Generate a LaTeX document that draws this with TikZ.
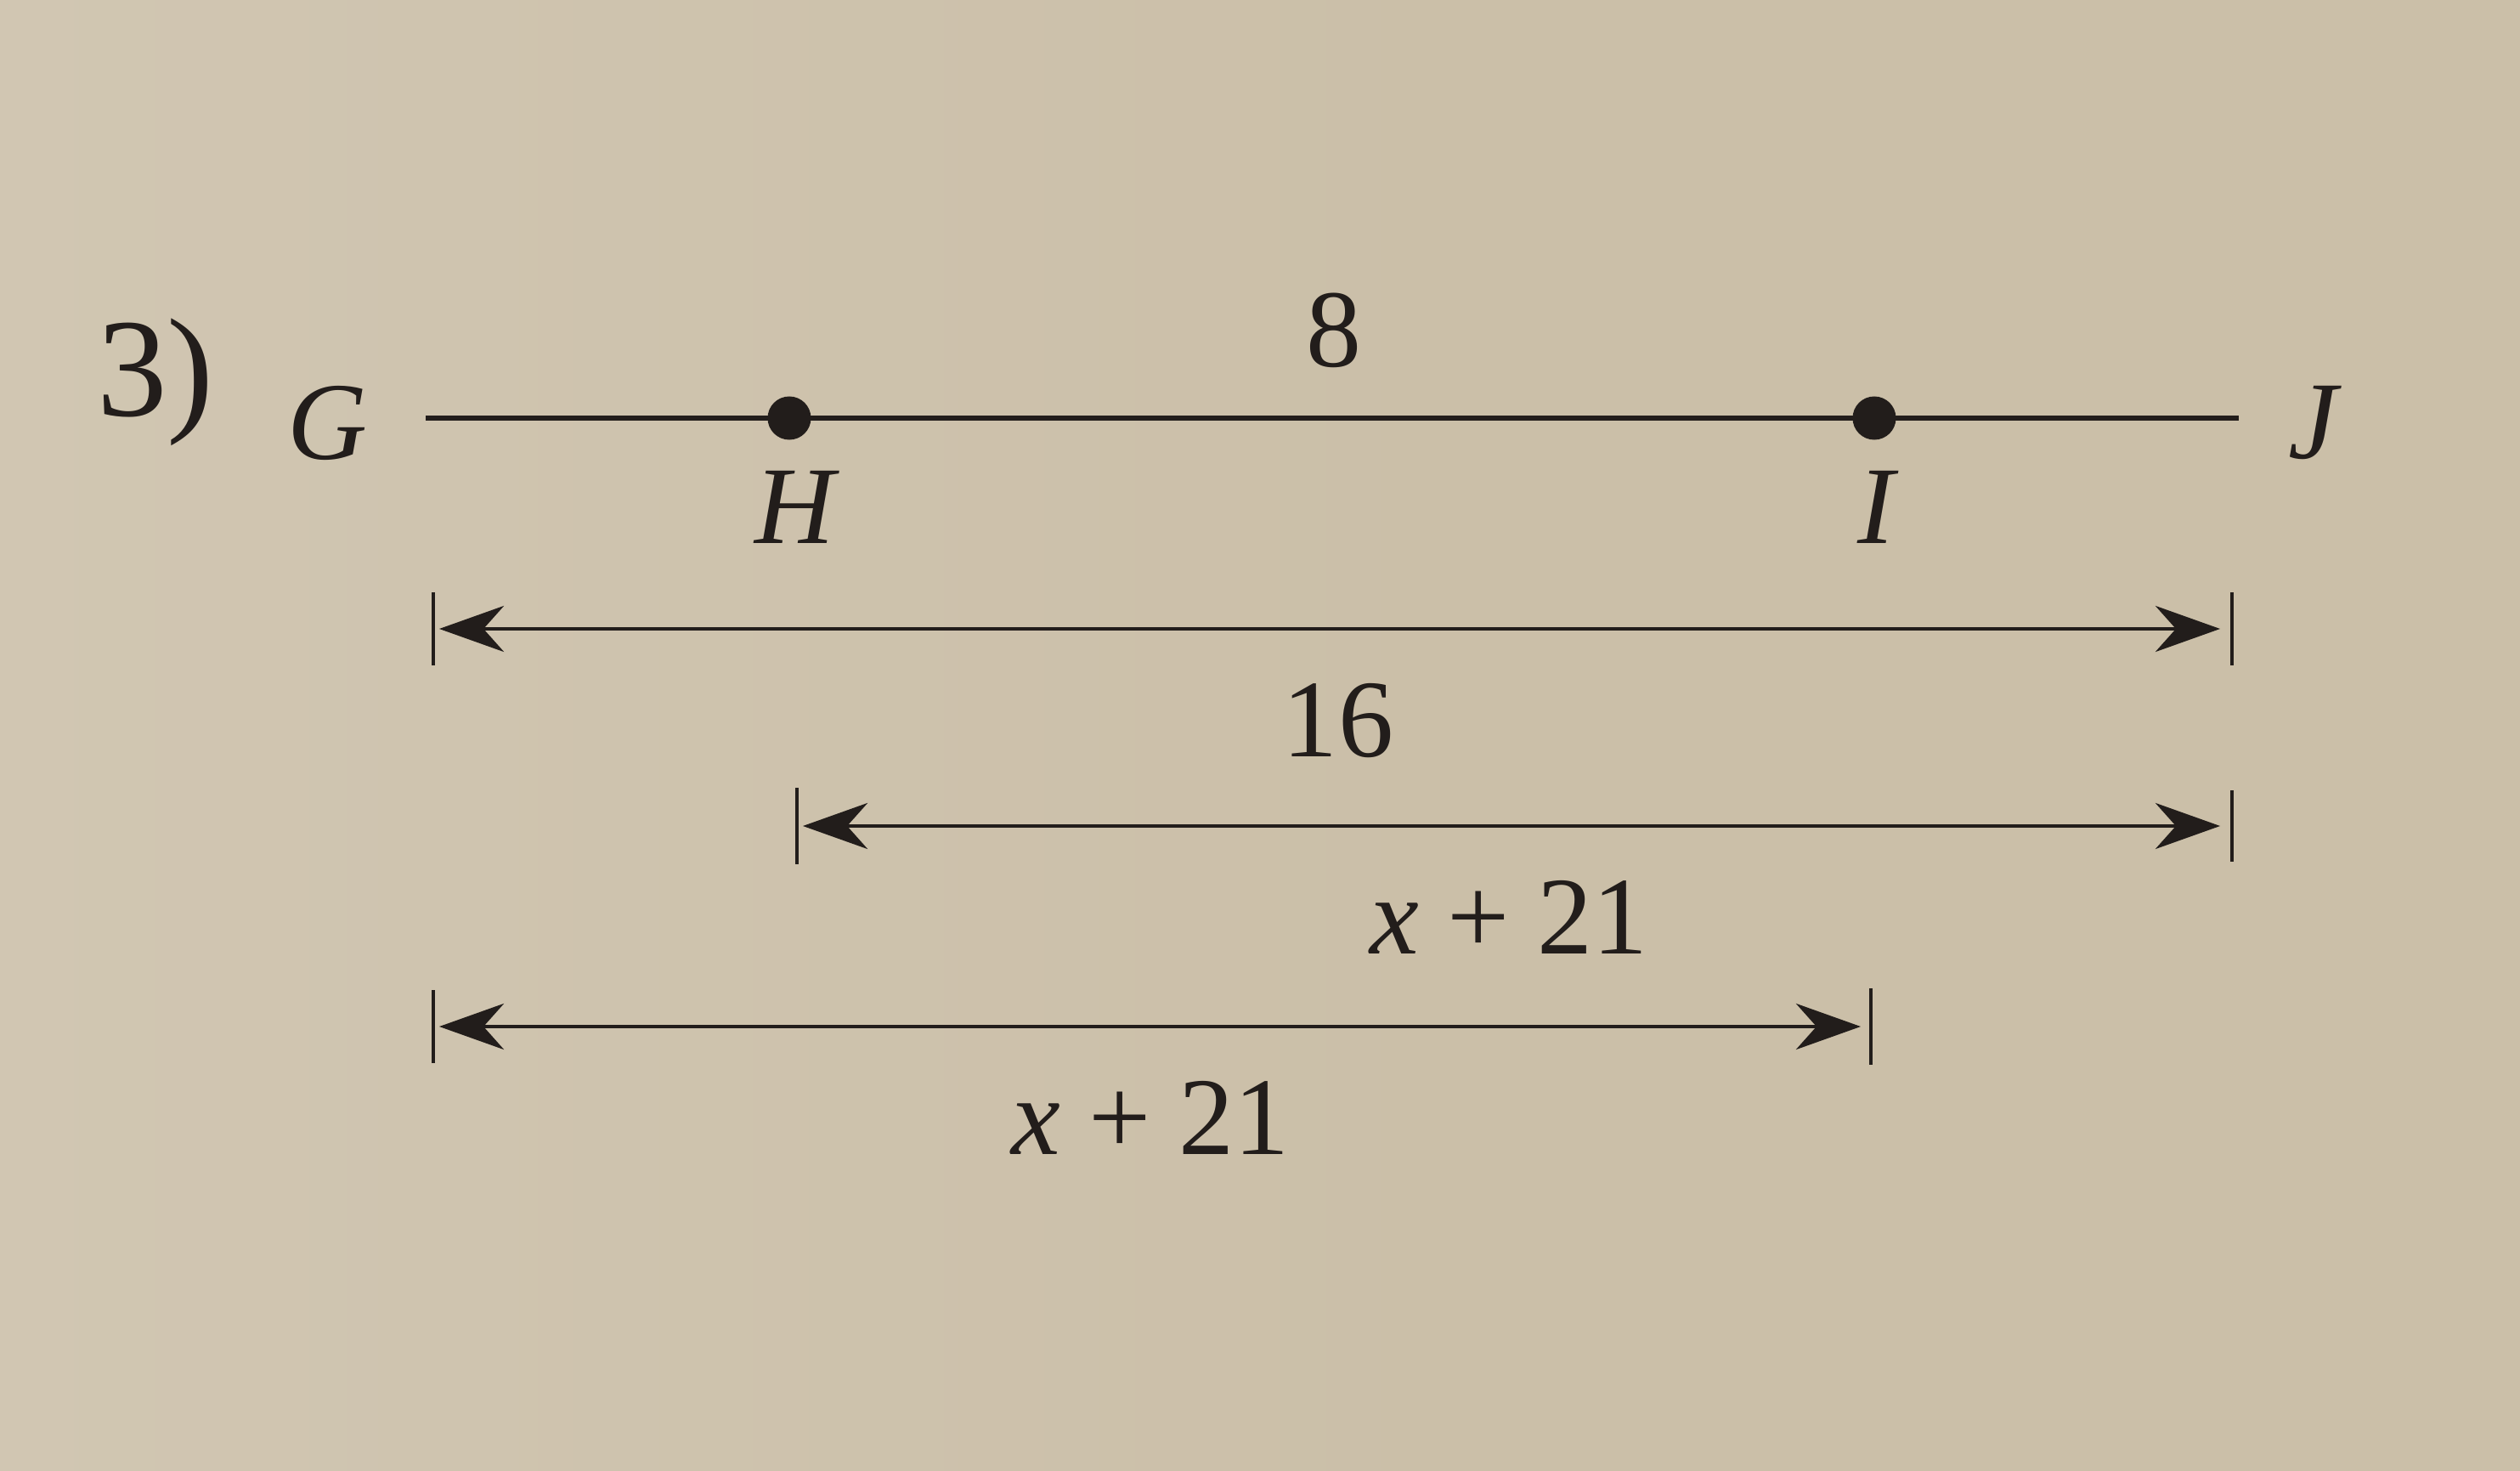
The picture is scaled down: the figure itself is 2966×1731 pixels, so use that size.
\documentclass[tikz,border=0pt]{standalone}
\usepackage{fontspec}
\setmainfont{Liberation Serif}
\usetikzlibrary{arrows.meta}
\definecolor{paper}{RGB}{203,191,168}
\definecolor{ink}{RGB}{34,29,27}
\tikzset{
  lbl/.style={text=ink, inner sep=0pt, anchor=base, font=\fontsize{37}{40}\selectfont},
  ptlbl/.style={lbl, font=\fontsize{37}{40}\selectfont\itshape},
  seg/.style={draw=ink, line width=1.6pt},
  dot/.style={circle, fill=ink, inner sep=0pt, minimum size=0.51cm},
  dimline/.style={draw=ink, line width=1.35pt,
    {Stealth[length=0.76cm, width=0.54cm, inset=0.24cm]}-{Stealth[length=0.76cm, width=0.54cm, inset=0.24cm]}},
  tick/.style={draw=ink, line width=1.3pt}
}
\begin{document}
\begin{tikzpicture}[x=0.01cm, y=-0.01cm]
\useasboundingbox (0,0) rectangle (2966,1731);
\fill[paper] (0,0) rectangle (2966,1731);
\shade[left color=white, right color=paper, opacity=0.12] (0,0) rectangle (1800,1731);

% problem number
\node[lbl, font=\fontsize{47}{50}\selectfont] (num) at (183,490) {3)};

% main segment
\coordinate (Gend) at (501,492);
\coordinate (Jend) at (2635,492);
\draw[seg] (Gend) -- (Jend);
\node[dot] (H) at (929,492) {};
\node[dot] (I) at (2206,492) {};
\node[ptlbl] (Glbl) at (385,541) {G};
\node[ptlbl] (Hlbl) at (935,640) {H};
\node[ptlbl] (Ilbl) at (2208,640) {I};
\node[ptlbl] (Jlbl) at (2722,540) {J};
\node[lbl] (eight) at (1570,432) {8};

% dimension line 1 (G to J)
\coordinate (a1) at (517,740);
\coordinate (b1) at (2613,740);
\coordinate (ta1) at (510,740);
\coordinate (tb1) at (2627,740);
\draw[dimline] (a1) -- (b1);
\draw[tick] (ta1) ++(0,-43) -- ++(0,86);
\draw[tick] (tb1) ++(0,-43) -- ++(0,86);
\node[lbl] (sixteen) at (1575,890) {16};

% dimension line 2 (H to J)
\coordinate (a2) at (945,972);
\coordinate (b2) at (2613,972);
\coordinate (ta2) at (938,972);
\coordinate (tb2) at (2627,972);
\draw[dimline] (a2) -- (b2);
\draw[tick] (ta2) ++(0,-45) -- ++(0,90);
\draw[tick] (tb2) ++(0,-42) -- ++(0,84);
\node[lbl] (expr1) at (1776,1122) {\textit{x} + 21};

% dimension line 3 (G to I)
\coordinate (a3) at (517,1208);
\coordinate (b3) at (2190,1208);
\coordinate (ta3) at (510,1208);
\coordinate (tb3) at (2202,1208);
\draw[dimline] (a3) -- (b3);
\draw[tick] (ta3) ++(0,-43) -- ++(0,86);
\draw[tick] (tb3) ++(0,-45) -- ++(0,90);
\node[lbl] (expr2) at (1354,1358) {\textit{x} + 21};
\end{tikzpicture}
\end{document}
